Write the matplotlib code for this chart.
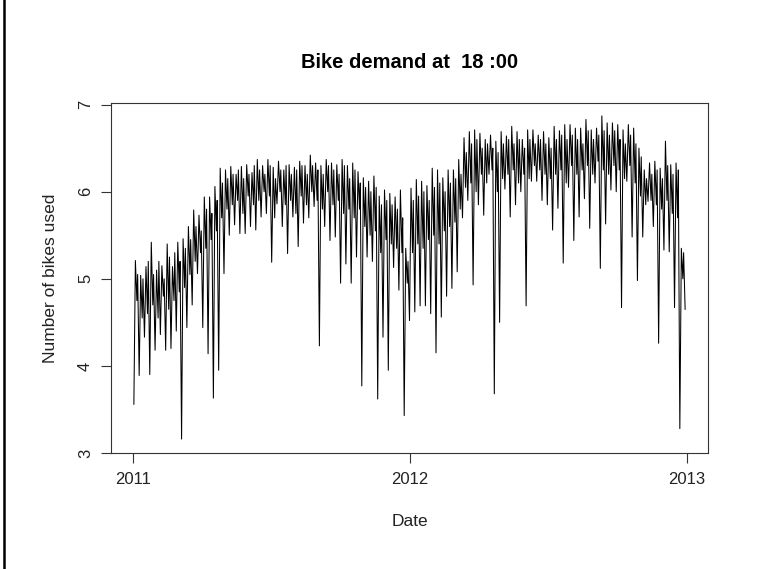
import pandas as pd
import numpy as np
import matplotlib
matplotlib.use("Agg")
import matplotlib.pyplot as plt
from matplotlib.lines import Line2D

# weekly readings
# Sunday trough
week_low = [
    3.56, 3.89, 4.33, 3.90, 4.18, 4.36, 4.18, 4.20, 4.40, 3.16,
    4.44, 4.70, 5.06, 4.44, 4.14, 3.63, 3.95, 5.06, 5.50, 5.62,
    5.52, 5.52, 5.60, 5.56, 5.71, 5.75, 5.19, 5.86, 5.60, 5.29,
    5.71, 5.37, 5.64, 5.70, 5.83, 4.23, 5.60, 5.44, 5.48, 4.95,
    5.17, 4.95, 5.25, 3.77, 5.25, 5.20, 3.62, 4.33, 3.95, 5.13,
    4.87, 3.43, 4.52, 4.62, 4.69, 4.69, 4.60, 4.15, 4.56, 4.80,
    4.89, 5.08, 5.70, 5.90, 4.93, 5.85, 5.73, 6.20, 3.68, 4.50,
    6.03, 5.71, 5.85, 6.00, 4.69, 6.12, 6.12, 5.90, 5.85, 5.56,
    5.81, 5.18, 6.05, 5.44, 5.71, 5.92, 5.58, 6.10, 5.12, 5.63,
    6.02, 6.00, 4.67, 6.12, 5.48, 4.98, 5.48, 5.89, 5.60, 4.26,
    5.33, 5.31, 4.67, 3.28, 4.65,
]
# Tuesday peak
week_high = [
    5.21, 5.04, 5.14, 5.42, 5.10, 5.15, 5.40, 5.14, 5.42, 5.46,
    5.60, 5.79, 5.73, 5.94, 5.94, 6.06, 6.27, 6.25, 6.29, 6.20,
    6.29, 6.31, 6.22, 6.37, 6.30, 6.37, 6.28, 6.35, 6.25, 6.31,
    6.28, 6.35, 6.30, 6.42, 6.33, 6.30, 6.37, 6.33, 6.31, 6.37,
    6.30, 6.33, 6.23, 6.16, 6.12, 6.18, 5.95, 6.02, 5.98, 5.94,
    6.02, 5.35, 6.04, 6.14, 6.12, 6.07, 6.27, 6.25, 6.16, 6.25,
    6.25, 6.37, 6.62, 6.69, 6.71, 6.67, 6.60, 6.65, 6.58, 6.69,
    6.64, 6.75, 6.69, 6.60, 6.71, 6.71, 6.65, 6.69, 6.62, 6.75,
    6.70, 6.77, 6.77, 6.73, 6.73, 6.83, 6.71, 6.73, 6.87, 6.79,
    6.79, 6.77, 6.71, 6.77, 6.73, 6.50, 6.25, 6.33, 6.35, 6.27,
    6.58, 6.31, 6.33, 5.35,
]
# Thursday mid-week dip
week_mid = [
    4.75, 4.55, 4.60, 4.70, 4.55, 4.80, 4.65, 4.75, 4.85, 4.90,
    5.05, 5.20, 5.30, 5.35, 5.45, 5.55, 5.70, 5.80, 5.85, 5.90,
    5.75, 5.95, 5.85, 5.90, 6.00, 5.95, 5.70, 6.00, 5.85, 5.90,
    5.75, 5.95, 5.85, 6.00, 5.90, 5.80, 6.00, 5.85, 5.90, 5.75,
    5.80, 5.70, 5.80, 5.60, 5.50, 5.55, 5.30, 5.45, 5.40, 5.35,
    5.30, 4.95, 5.30, 5.40, 5.35, 5.45, 5.50, 5.40, 5.55, 5.60,
    5.65, 5.80, 6.05, 6.10, 6.00, 6.20, 6.10, 6.25, 6.00, 6.15,
    6.20, 6.25, 6.10, 6.20, 6.15, 6.30, 6.25, 6.20, 6.15, 6.20,
    6.25, 6.10, 6.30, 6.20, 6.25, 6.30, 6.20, 6.35, 6.25, 6.20,
    6.30, 6.25, 6.15, 6.30, 6.10, 5.95, 5.85, 5.90, 5.85, 5.80,
    5.90, 5.75, 5.70, 5.00,
]
# Friday peak
week_high2 = [
    5.05, 5.00, 5.20, 5.05, 5.20, 5.00, 5.25, 5.30, 5.20, 5.35,
    5.45, 5.60, 5.55, 5.80, 5.75, 5.90, 6.10, 6.15, 6.20, 6.25,
    6.15, 6.20, 6.30, 6.25, 6.20, 6.30, 6.15, 6.25, 6.30, 6.20,
    6.25, 6.30, 6.20, 6.30, 6.25, 6.20, 6.30, 6.25, 6.20, 6.30,
    6.15, 6.25, 6.10, 6.05, 6.00, 6.05, 5.85, 5.90, 5.85, 5.80,
    5.70, 5.20, 5.90, 5.95, 6.00, 5.90, 6.05, 6.10, 6.00, 6.10,
    6.15, 6.20, 6.45, 6.55, 6.60, 6.50, 6.55, 6.50, 6.45, 6.55,
    6.60, 6.55, 6.60, 6.50, 6.60, 6.55, 6.60, 6.55, 6.50, 6.60,
    6.65, 6.60, 6.65, 6.60, 6.55, 6.70, 6.60, 6.65, 6.70, 6.65,
    6.70, 6.60, 6.55, 6.65, 6.55, 6.40, 6.15, 6.20, 6.25, 6.15,
    6.30, 6.20, 6.25, 5.30,
]

year_ticks = ["2011", "2012", "2013"]
y_ticks = [3, 4, 5, 6, 7]

# one date-ordered series: Sun trough, Tue peak, Thu dip, Fri peak
sundays = pd.date_range("2011-01-02", periods=len(week_low), freq="W-SUN")
weekdays = sundays[:len(week_high)]
series = pd.concat([
    pd.Series(week_low, index=sundays),
    pd.Series(week_high, index=weekdays + pd.Timedelta(days=2)),
    pd.Series(week_mid, index=weekdays + pd.Timedelta(days=4)),
    pd.Series(week_high2, index=weekdays + pd.Timedelta(days=5)),
]).sort_index()

plt.rcParams["font.family"] = ["Liberation Sans", "DejaVu Sans"]

fig = plt.figure(figsize=(7.67, 5.69), dpi=100)
ax = fig.add_axes([111 / 767, 116 / 569, 597 / 767, 350 / 569])

ax.plot(series.index, series.values, color="black", linewidth=0.75)

# R style 4% padding around the data range
x0 = pd.Timestamp("2011-01-01")
x1 = pd.Timestamp("2012-12-31")
pad = (x1 - x0) * 0.04
ax.set_xlim(x0 - pad, x1 + pad)
lo, hi = series.min(), series.max()
ax.set_ylim(lo - 0.04 * (hi - lo), hi + 0.04 * (hi - lo))

ax.set_xticks([pd.Timestamp(y + "-01-01") for y in year_ticks])
ax.set_xticklabels(year_ticks)
ax.set_yticks(y_ticks)
ax.set_yticklabels([str(v) for v in y_ticks], rotation=90, va="center")

ax.tick_params(axis="both", direction="out", length=7, width=0.8,
               colors="#333333", labelsize=12, labelcolor="#222222")
ax.tick_params(axis="x", pad=7)
ax.tick_params(axis="y", pad=6)
for sp in ax.spines.values():
    sp.set_linewidth(0.8)
    sp.set_color("#333333")

ax.set_title("Bike demand at  18 :00", fontsize=14.5, fontweight="bold", pad=25)
ax.set_xlabel("Date", fontsize=12.5, labelpad=19, color="#222222")
ax.set_ylabel("Number of bikes used", fontsize=12.5, labelpad=14, color="#222222")

# dark border line down the left edge of the screenshot
fig.add_artist(Line2D([4 / 767, 4 / 767], [0, 1], color="black", linewidth=1.8))

fig.savefig("out.png", dpi=100)
